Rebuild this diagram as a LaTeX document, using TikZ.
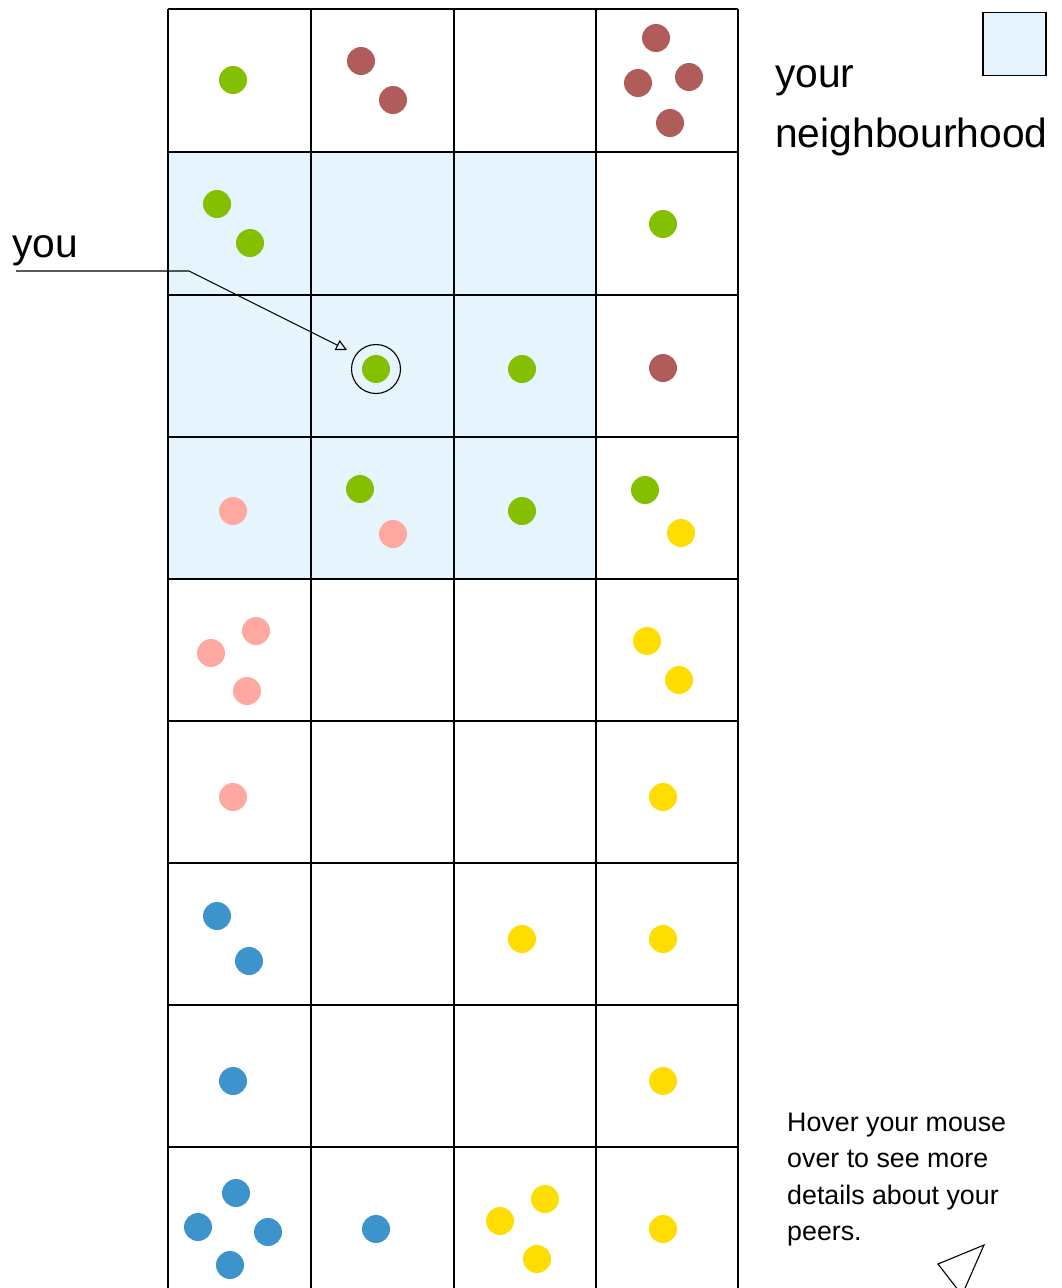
\documentclass[tikz,border=0pt]{standalone}
\usepackage{fontspec}
\setmainfont{Liberation Sans}
\usetikzlibrary{arrows.meta}
\definecolor{cgreen}{HTML}{84C000}
\definecolor{cred}{HTML}{B05C5A}
\definecolor{cpink}{HTML}{FFA8A0}
\definecolor{cyellow}{HTML}{FFDD00}
\definecolor{cblue}{HTML}{3D94CC}
\definecolor{hoodfill}{HTML}{E6F4FE}
\begin{document}
\begin{tikzpicture}[x=1pt,y=-1pt,
  peer/.style={circle, fill=#1, minimum size=28pt, inner sep=0pt},
  gridline/.style={line width=1.3pt, black},
  bigtext/.style={font=\fontsize{40.8}{44}\selectfont, inner sep=0pt, anchor=base west},
  smalltext/.style={font=\fontsize{26.8}{30}\selectfont, inner sep=0pt, anchor=base west},
  thinline/.style={line width=1.1pt, black}]
\useasboundingbox (0,0) rectangle (1061,1288);
\begin{scope}
\clip (0,0) rectangle (1061,1288);
% neighbourhood cells
\fill[hoodfill] (168,152) rectangle (596,579);
% grid
\foreach \x in {168,311,454,596,738} \draw[gridline] (\x,9) -- (\x,1300);
\foreach \y in {9,152,295,437,579,721,863,1005,1147} \draw[gridline] (168,\y) -- (738,\y);
% cursor triangle
\draw[thinline] (938,1264) -- (984,1245) -- (962,1295) -- cycle;
\end{scope}
% peers
\node[peer=cgreen] (p1) at (233,80) {};
\node[peer=cred] (p2) at (361,61) {};
\node[peer=cred] (p3) at (393,100) {};
\node[peer=cred] (p4) at (656,38) {};
\node[peer=cred] (p5) at (638,83) {};
\node[peer=cred] (p6) at (689,77) {};
\node[peer=cred] (p7) at (670,123) {};
\node[peer=cgreen] (p8) at (217,204) {};
\node[peer=cgreen] (p9) at (250,243) {};
\node[peer=cgreen] (p10) at (663,224) {};
\node[peer=cgreen] (me) at (376,369) {};
\node[circle, draw, line width=1.1pt, minimum size=49pt, inner sep=0pt] (ring) at (376,369) {};
\node[peer=cgreen] (p11) at (522,369) {};
\node[peer=cred] (p12) at (663,368) {};
\node[peer=cpink] (p13) at (233,511) {};
\node[peer=cgreen] (p14) at (360,489) {};
\node[peer=cpink] (p15) at (393,534) {};
\node[peer=cgreen] (p16) at (522,511) {};
\node[peer=cgreen] (p17) at (645,490) {};
\node[peer=cyellow] (p18) at (681,533) {};
\node[peer=cpink] (p19) at (256,631) {};
\node[peer=cpink] (p20) at (211,653) {};
\node[peer=cpink] (p21) at (247,691) {};
\node[peer=cyellow] (p22) at (647,641) {};
\node[peer=cyellow] (p23) at (679,680) {};
\node[peer=cpink] (p24) at (233,797) {};
\node[peer=cyellow] (p25) at (663,797) {};
\node[peer=cblue] (p26) at (217,916) {};
\node[peer=cblue] (p27) at (249,961) {};
\node[peer=cyellow] (p28) at (522,939) {};
\node[peer=cyellow] (p29) at (663,939) {};
\node[peer=cblue] (p30) at (233,1081) {};
\node[peer=cyellow] (p31) at (663,1081) {};
\node[peer=cblue] (p32) at (236,1193) {};
\node[peer=cblue] (p33) at (198,1227) {};
\node[peer=cblue] (p34) at (268,1232) {};
\node[peer=cblue] (p35) at (230,1265) {};
\node[peer=cblue] (p36) at (376,1229) {};
\node[peer=cyellow] (p37) at (545,1199) {};
\node[peer=cyellow] (p38) at (500,1221) {};
\node[peer=cyellow] (p39) at (537,1259) {};
\node[peer=cyellow] (p40) at (663,1229) {};
% labels
\node[bigtext] (you) at (12,257) {you};
\coordinate (ustart) at (16,271);
\coordinate (ubend) at (189,271);
\coordinate (utip) at (347,350);
\draw[thinline, -{Triangle[open, length=11pt, width=11pt]}] (ustart) -- (ubend) -- (utip);
\node[draw, line width=1.1pt, fill=hoodfill, minimum size=63pt, inner sep=0pt] (legend) at (1014.5,44) {};
\node[bigtext] (your) at (775,87) {your};
\node[bigtext] (neigh) at (775,147) {neighbourhood};
\node[smalltext] (h1) at (787,1131) {Hover your mouse};
\node[smalltext] (h2) at (787,1167.5) {over to see more};
\node[smalltext] (h3) at (787,1204) {details about your};
\node[smalltext] (h4) at (787,1240.5) {peers.};
\end{tikzpicture}
\end{document}
